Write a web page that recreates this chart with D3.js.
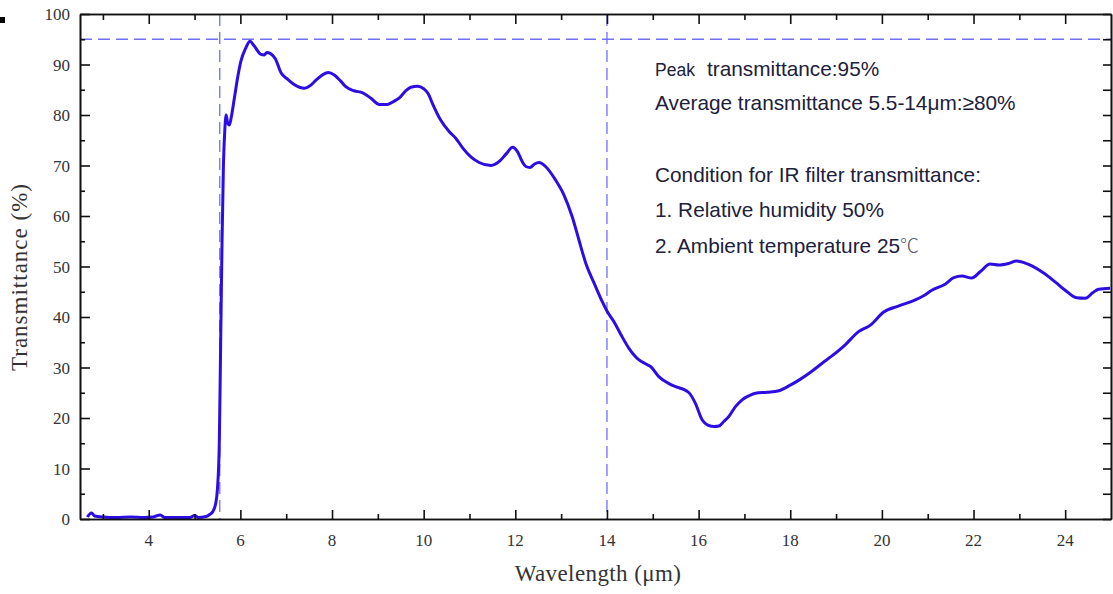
<!DOCTYPE html>
<html>
<head>
<meta charset="utf-8">
<script src="https://cdn.jsdelivr.net/npm/d3@7"></script>
<style>
  body { margin: 0; background: #fff; }
  svg { display: block; }
</style>
</head>
<body>
<svg id="chart" width="1113" height="594"></svg>
<script>
// ── DATA ──────────────────────────────────────────────────────
const wavelength = [
  2.66, 2.75, 2.82, 3.0, 3.3, 3.6, 3.9, 4.1, 4.25, 4.35, 4.6, 4.9, 5.0, 5.08,
  5.25, 5.33, 5.40, 5.46, 5.50, 5.54, 5.57, 5.60, 5.63, 5.66, 5.69, 5.72, 5.76,
  5.80, 5.87, 5.94, 6.01, 6.12, 6.21, 6.30, 6.45, 6.52, 6.58, 6.65, 6.76, 6.89,
  7.03, 7.15, 7.29, 7.40, 7.52, 7.65, 7.80, 7.92, 8.05, 8.18, 8.30, 8.48, 8.67,
  8.85, 9.03, 9.21, 9.35, 9.47, 9.60, 9.72, 9.87, 10.0, 10.1, 10.19, 10.37,
  10.56, 10.7, 10.85, 11.03, 11.21, 11.47, 11.65, 11.8, 11.94, 12.05, 12.15,
  12.23, 12.32, 12.42, 12.52, 12.66, 12.88, 13.06, 13.24, 13.39, 13.54, 13.72,
  13.9, 14.0, 14.15, 14.3, 14.48, 14.7, 14.85, 14.95, 15.13, 15.42, 15.79,
  15.93, 16.08, 16.2, 16.35, 16.44, 16.55, 16.66, 16.8, 16.95, 17.1, 17.24,
  17.5, 17.75, 18.0, 18.19, 18.45, 18.69, 18.91, 19.2, 19.49, 19.75, 20.04,
  20.37, 20.73, 20.91, 21.09, 21.38, 21.57, 21.75, 21.96, 22.15, 22.36, 22.55,
  22.76, 22.94, 23.2, 23.53, 23.8, 24.0, 24.25, 24.44, 24.6, 24.73, 24.98
];
const transmittance = [
  0.4, 1.2, 0.6, 0.4, 0.3, 0.4, 0.3, 0.4, 0.8, 0.3, 0.3, 0.3, 0.7, 0.3,
  0.5, 0.9, 1.5, 3.0, 6.0, 15, 35, 55, 70, 77, 80, 78.5, 78,
  79.5, 83.4, 87.4, 90.6, 93.3, 94.6, 93.7, 92.0, 91.9, 92.4, 92.2, 91.2, 88.3,
  87.1, 86.2, 85.5, 85.3, 85.8, 86.9, 88.0, 88.4, 87.9, 86.8, 85.6, 84.8, 84.4,
  83.3, 82.1, 82.1, 82.7, 83.4, 84.7, 85.5, 85.7, 85.2, 84.2, 82.3, 79.0,
  76.7, 75.4, 73.5, 71.7, 70.6, 70.0, 70.8, 72.3, 73.6, 72.7, 70.8,
  69.8, 69.6, 70.3, 70.6, 69.8, 67.1, 64.2, 59.9, 55.2, 50.6, 46.7,
  43.0, 41.2, 39.1, 36.6, 33.8, 31.5, 30.7, 30.2, 28.2, 26.5, 25.0,
  22.9, 19.6, 18.6, 18.3, 18.4, 19.3, 20.3, 22.2, 23.6, 24.4, 24.9,
  25.1, 25.4, 26.5, 27.5, 29.1, 30.8, 32.3, 34.5, 37.1, 38.4, 41.0,
  42.2, 43.4, 44.2, 45.3, 46.5, 47.8, 48.1, 47.7, 49.0, 50.5, 50.3,
  50.6, 51.1, 50.4, 48.7, 46.8, 45.3, 43.8, 43.7, 44.8, 45.5, 45.7
];

const xTicks = [4, 6, 8, 10, 12, 14, 16, 18, 20, 22, 24];
const yTicks = [0, 10, 20, 30, 40, 50, 60, 70, 80, 90, 100];
const guideX = [5.55, 14];  // vertical dashed guides (μm)
const guideY = [95];        // horizontal dashed guide (%)

const notes = [
  { small: "Peak", text: "transmittance:95%" },
  { text: "Average transmittance 5.5-14μm:≥80%" },
  { text: "Condition for IR filter transmittance:" },
  { text: "1. Relative humidity 50%" },
  { text: "2. Ambient temperature 25", unit: "℃" }
];
const noteY = [76, 110, 182, 217, 253];

// ── SETUP ─────────────────────────────────────────────────────
const width = 1113, height = 594;
const margin = { top: 14, right: 2, bottom: 75, left: 80 };
const innerWidth = width - margin.left - margin.right;
const innerHeight = height - margin.top - margin.bottom;

const svg = d3.select("#chart");
const inner = svg.append("g")
  .attr("transform", `translate(${margin.left}, ${margin.top})`);

const xScale = d3.scaleLinear().domain([2.5, 25]).range([0, innerWidth]);
const yScale = d3.scaleLinear().domain([0, 100]).range([innerHeight, 0]);

const serif = "'Liberation Serif', 'Times New Roman', serif";
const sans = "'Liberation Sans', Arial, sans-serif";

// tiny black mark at the very left (cropped artefact)
svg.append("rect")
  .attr("x", 0).attr("y", 17).attr("width", 5).attr("height", 6)
  .attr("fill", "#000");

// ── DASHED GUIDES ─────────────────────────────────────────────
inner.selectAll(".guide-x")
  .data(guideX)
  .join("line")
    .attr("class", "guide-x")
    .attr("x1", d => xScale(d)).attr("x2", d => xScale(d))
    .attr("y1", 0).attr("y2", innerHeight)
    .attr("stroke", "#6f6ff8")
    .attr("stroke-width", 1.3)
    .attr("stroke-dasharray", "12,6");

inner.selectAll(".guide-y")
  .data(guideY)
  .join("line")
    .attr("class", "guide-y")
    .attr("x1", 0).attr("x2", innerWidth)
    .attr("y1", d => yScale(d)).attr("y2", d => yScale(d))
    .attr("stroke", "#6f6ff8")
    .attr("stroke-width", 1.3)
    .attr("stroke-dasharray", "12,6");

// ── CURVE ─────────────────────────────────────────────────────
inner.append("clipPath").attr("id", "clip")
  .append("rect").attr("width", innerWidth).attr("height", innerHeight);

const points = wavelength.map((w, i) => ({ w, t: transmittance[i] }));

const lineGen = d3.line()
  .x(d => xScale(d.w))
  .y(d => yScale(d.t))
  .curve(d3.curveMonotoneX);

inner.append("path")
  .datum(points)
  .attr("clip-path", "url(#clip)")
  .attr("d", lineGen)
  .attr("fill", "none")
  .attr("stroke", "#2c0ee4")
  .attr("stroke-width", 3)
  .attr("stroke-linejoin", "round");

// ── AXES (ticks pointing inward, frame on all sides) ─────────
const styleAxis = g => {
  g.selectAll(".domain").attr("stroke", "#111").attr("stroke-width", 1.6);
  g.selectAll(".tick line").attr("stroke", "#111").attr("stroke-width", 1.6);
  g.selectAll(".tick text").remove();   // labels are drawn below
};

const xMinor = d3.range(3, 25, 2);
const yMinor = d3.range(5, 100, 10);

const axes = [
  { gen: d3.axisBottom, scale: xScale, ticks: xTicks, size: -9,  at: `0, ${innerHeight}` },
  { gen: d3.axisBottom, scale: xScale, ticks: xMinor, size: -5,  at: `0, ${innerHeight}` },
  { gen: d3.axisTop,    scale: xScale, ticks: xTicks, size: -10, at: "0, 0" },
  { gen: d3.axisTop,    scale: xScale, ticks: xMinor, size: -6,  at: "0, 0" },
  { gen: d3.axisLeft,   scale: yScale, ticks: yTicks, size: -10, at: "0, 0" },
  { gen: d3.axisLeft,   scale: yScale, ticks: yMinor, size: -5,  at: "0, 0" },
  { gen: d3.axisRight,  scale: yScale, ticks: yTicks, size: -8,  at: `${innerWidth}, 0` },
  { gen: d3.axisRight,  scale: yScale, ticks: yMinor, size: -8,  at: `${innerWidth}, 0` }
];
axes.forEach(a => {
  inner.append("g")
    .attr("transform", `translate(${a.at})`)
    .call(a.gen(a.scale).tickValues(a.ticks).tickSize(a.size).tickSizeOuter(0))
    .call(styleAxis);
});

// tick labels
inner.append("g")
  .selectAll("text")
  .data(xTicks)
  .join("text")
    .attr("x", d => xScale(d))
    .attr("y", innerHeight + 27)
    .attr("text-anchor", "middle")
    .attr("fill", "#333")
    .style("font-family", serif)
    .style("font-size", "17px")
    .text(d => d);

inner.append("g")
  .selectAll("text")
  .data(yTicks)
  .join("text")
    .attr("x", -10)
    .attr("y", d => yScale(d) + 6)
    .attr("text-anchor", "end")
    .attr("fill", "#333")
    .style("font-family", serif)
    .style("font-size", "17px")
    .text(d => d);

// ── AXIS TITLES ───────────────────────────────────────────────
svg.append("text")
  .attr("x", 598).attr("y", 581)
  .attr("text-anchor", "middle")
  .attr("fill", "#333")
  .style("font-family", serif)
  .style("font-size", "23px")
  .style("letter-spacing", "0.4px")
  .text("Wavelength (μm)");

svg.append("text")
  .attr("transform", "translate(27, 277) rotate(-90)")
  .attr("text-anchor", "middle")
  .attr("fill", "#333")
  .style("font-family", serif)
  .style("font-size", "23px")
  .style("letter-spacing", "1px")
  .text("Transmittance (%)");

// ── ANNOTATIONS ───────────────────────────────────────────────
const noteG = svg.append("g")
  .style("font-family", sans)
  .attr("fill", "#20203a");

notes.forEach((n, i) => {
  const t = noteG.append("text")
    .attr("x", 655)
    .attr("y", noteY[i])
    .style("font-size", "20.8px");
  if (n.small) {
    t.append("tspan").style("font-size", "17.5px").text(n.small);
    t.append("tspan").attr("x", 707).text(n.text);
  } else {
    t.append("tspan").text(n.text);
  }
  if (n.unit) {
    t.append("tspan")
      .attr("fill", "#55556a")
      .style("font-family", "'Noto Sans CJK SC', sans-serif")
      .style("font-weight", "300")
      .style("font-size", "19px")
      .text(n.unit);
  }
});
</script>
</body>
</html>
